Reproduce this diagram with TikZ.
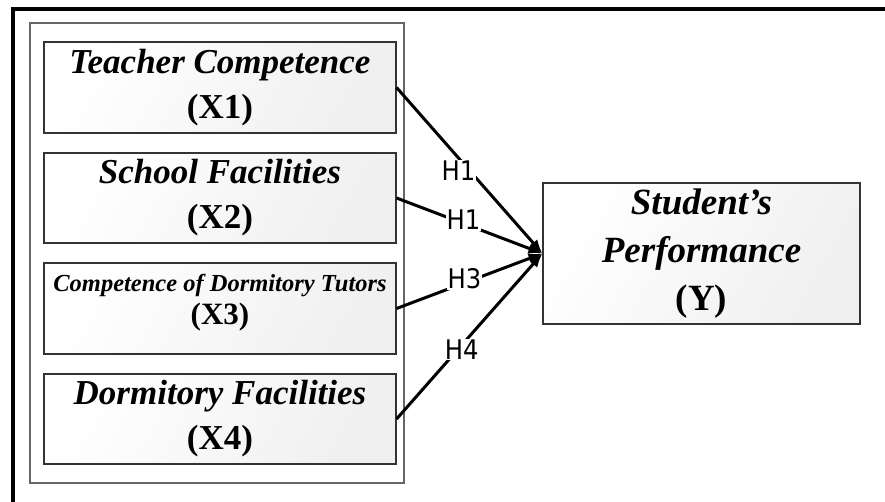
\documentclass[tikz,border=0pt]{standalone}
\usepackage{fontspec}
\setmainfont{Liberation Serif}
\newfontfamily\hfont[FakeStretch=0.9]{DejaVu Sans}
\usetikzlibrary{arrows.meta,shadows}

\tikzset{
  varbox/.style={draw=black!80, line width=1.1pt,
    left color=white, right color=black!6, shading angle=60,
    drop shadow={shadow xshift=1pt, shadow yshift=-1pt, opacity=0.45, fill=black!70},
    inner sep=0pt, align=center,
    font=\bfseries\itshape\fontsize{35}{45}\selectfont},
  groupbox/.style={draw=black!60, line width=1.1pt, fill=white,
    drop shadow={shadow xshift=1pt, shadow yshift=-1pt, opacity=0.35, fill=black!60}},
  path/.style={line width=3pt, -{Latex[length=14pt,width=11pt]}},
  hyp/.style={fill=white, inner sep=1pt, font=\hfont\fontsize{27}{27}\selectfont},
  frame/.style={line width=4pt, line cap=butt}
}

\begin{document}
\begin{tikzpicture}[x=1pt, y=-1pt]
  \useasboundingbox (0,0) rectangle (885,502);
  \fill[white] (0,0) rectangle (885,502);

  % outer frame: top and left rules
  \coordinate (ftl) at (11,9);
  \coordinate (ftr) at (885,9);
  \coordinate (fbl) at (13,502);
  \draw[frame] (ftl) -- (ftr);
  \draw[frame] (13,7) -- (fbl);

  % group of independent variables
  \node[groupbox, minimum width=374pt, minimum height=460pt, inner sep=0pt] (grp) at (217,253) {};

  % independent variables
  \node[varbox, minimum width=352pt, minimum height=91pt] (x1) at (220,87.5)
    {Teacher Competence\\\upshape(X1)};
  \node[varbox, minimum width=352pt, minimum height=90pt] (x2) at (220,198)
    {School Facilities\\\upshape(X2)};
  \node[varbox, minimum width=352pt, minimum height=91pt,
        label={[align=center, yshift=6pt,
                font=\bfseries\itshape\fontsize{24.5}{33}\selectfont]center:
               Competence of Dormitory Tutors\\\upshape\fontsize{31}{33}\selectfont(X3)}]
        (x3) at (220,308.5) {};
  \node[varbox, minimum width=352pt, minimum height=90pt] (x4) at (220,419)
    {Dormitory Facilities\\\upshape(X4)};

  % dependent variable
  \node[varbox, minimum width=317pt, minimum height=141pt,
        font=\bfseries\itshape\fontsize{37}{48}\selectfont] (y) at (701.5,253.5)
    {Student’s\\Performance\\\upshape(Y)};

  % hypothesised paths
  \draw[path] (x1.east) -- node[hyp, pos=0.5, xshift=-11pt] {H1} (y.west);
  \draw[path] (x2.east) -- node[hyp, pos=0.5, xshift=-6pt, yshift=6pt] {H1} (y.west);
  \draw[path] (x3.east) -- node[hyp, pos=0.5, xshift=-5pt, yshift=2pt] {H3} (y.west);
  \draw[path] (x4.east) -- node[hyp, pos=0.42, xshift=4pt] {H4} (y.west);
\end{tikzpicture}
\end{document}
